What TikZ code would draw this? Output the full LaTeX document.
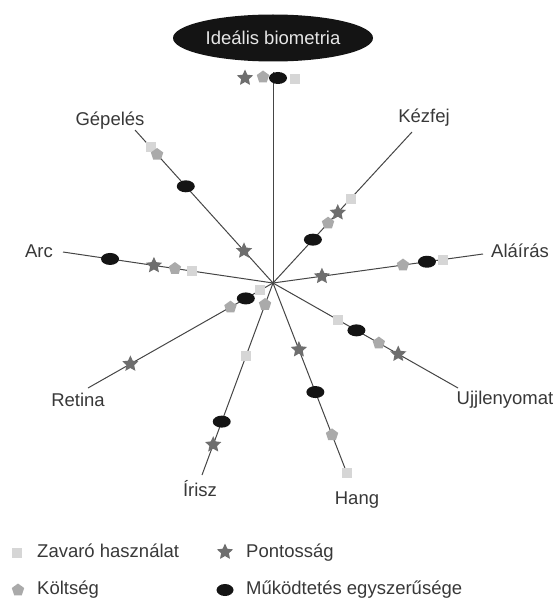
\documentclass[tikz,border=0pt]{standalone}
\usepackage{fontspec}
\setmainfont{Liberation Sans}
\usetikzlibrary{shapes.geometric,calc}
\definecolor{spoke}{HTML}{454545}
\definecolor{labeltext}{HTML}{383838}
\definecolor{sqgray}{HTML}{D6D6D6}
\definecolor{pentgray}{HTML}{AAAAAA}
\definecolor{stargray}{HTML}{6E6E6E}
\definecolor{ellblack}{HTML}{141414}
\definecolor{titletext}{HTML}{E6E6E6}

\begin{document}
\begin{tikzpicture}[x=1pt, y=-1pt,
  lbl/.style={font=\fontsize{18.5}{22}\selectfont, text=labeltext, inner sep=0pt, text height=13pt, text depth=4pt},
  sq/.style={rectangle, fill=sqgray, minimum size=10pt, inner sep=0pt},
  pent/.style={regular polygon, regular polygon sides=5, fill=pentgray, minimum size=13pt, inner sep=0pt},
  starmark/.style={star, star points=5, star point ratio=2.1, fill=stargray, minimum size=17pt, inner sep=0pt},
  ell/.style={ellipse, fill=ellblack, minimum width=18pt, minimum height=12pt, inner sep=0pt},
  spokeline/.style={draw=spoke, line width=1pt}
]
  \useasboundingbox (0,0) rectangle (557,599);

  \node[ellipse, fill=ellblack, minimum width=200pt, minimum height=47pt, inner sep=0pt,
        text=titletext, font=\fontsize{18.5}{22}\selectfont] (ideal) at (273,38) {Ideális biometria};

  \coordinate (c) at (273,283);
  \coordinate (idealend) at (273,72);
  \coordinate (gepend) at (135,130);
  \coordinate (arcend) at (63,252);
  \coordinate (kezend) at (412,132);
  \coordinate (alaend) at (483,254);
  \coordinate (ujjend) at (458,388);
  \coordinate (hangend) at (348,476);
  \coordinate (iriend) at (202,475);
  \coordinate (retend) at (88,388);

  \node[lbl] (gepeles) at (110,121) {Gépelés};
  \node[lbl] (arc) at (39,253) {Arc};
  \node[lbl] (kezfej) at (424,118) {Kézfej};
  \node[lbl] (alairas) at (520,253) {Aláírás};
  \node[lbl] (ujjlenyomat) at (505,400) {Ujjlenyomat};
  \node[lbl] (hang) at (357,500) {Hang};
  \node[lbl] (irisz) at (200,492) {Írisz};
  \node[lbl] (retina) at (78,402) {Retina};

  \foreach \e in {idealend,gepend,arcend,kezend,alaend,ujjend,hangend,iriend,retend}
    \draw[spokeline] (c) -- (\e);

  % ideal
  \node[starmark] (ideal-p) at (245,78) {};
  \node[pent] (ideal-k) at (263,77) {};
  \node[sq] (ideal-z) at (295,79) {};
  \node[ell] (ideal-m) at (278,78) {};

  % gepeles
  \node[sq] (gep-z) at ($(c)!0.886!(gepend)$) {};
  \node[pent] (gep-k) at ($(c)!0.84!(gepend)$) {};
  \node[ell] (gep-m) at ($(c)!0.632!(gepend)$) {};
  \node[starmark] (gep-p) at ($(c)!0.21!(gepend)$) {};

  % arc
  \node[ell] (arc-m) at ($(c)!0.776!(arcend)$) {};
  \node[starmark] (arc-p) at ($(c)!0.567!(arcend)$) {};
  \node[pent] (arc-k) at ($(c)!0.467!(arcend)$) {};
  \node[sq] (arc-z) at ($(c)!0.386!(arcend)$) {};

  % kezfej
  \node[sq] (kez-z) at ($(c)!0.558!(kezend)$) {};
  \node[pent] (kez-k) at ($(c)!0.396!(kezend)$) {};
  \node[starmark] (kez-p) at ($(c)!0.466!(kezend)$) {};
  \node[ell] (kez-m) at ($(c)!0.287!(kezend)$) {};

  % alairas
  \node[starmark] (ala-p) at ($(c)!0.233!(alaend)$) {};
  \node[pent] (ala-k) at ($(c)!0.619!(alaend)$) {};
  \node[sq] (ala-z) at ($(c)!0.81!(alaend)$) {};
  \node[ell] (ala-m) at ($(c)!0.733!(alaend)$) {};

  % ujjlenyomat
  \node[sq] (ujj-z) at ($(c)!0.349!(ujjend)$) {};
  \node[ell] (ujj-m) at ($(c)!0.451!(ujjend)$) {};
  \node[pent] (ujj-k) at ($(c)!0.572!(ujjend)$) {};
  \node[starmark] (ujj-p) at ($(c)!0.677!(ujjend)$) {};

  % hang
  \node[starmark] (hang-p) at ($(c)!0.345!(hangend)$) {};
  \node[ell] (hang-m) at ($(c)!0.565!(hangend)$) {};
  \node[pent] (hang-k) at ($(c)!0.787!(hangend)$) {};
  \node[sq] (hang-z) at ($(c)!0.985!(hangend)$) {};

  % irisz
  \node[pent] (iri-k) at ($(c)!0.112!(iriend)$) {};
  \node[sq] (iri-z) at ($(c)!0.378!(iriend)$) {};
  \node[ell] (iri-m) at ($(c)!0.722!(iriend)$) {};
  \node[starmark] (iri-p) at ($(c)!0.842!(iriend)$) {};

  % retina
  \node[sq] (ret-z) at ($(c)!0.068!(retend)$) {};
  \node[pent] (ret-k) at ($(c)!0.23!(retend)$) {};
  \node[ell] (ret-m) at ($(c)!0.147!(retend)$) {};
  \node[starmark] (ret-p) at ($(c)!0.771!(retend)$) {};

  % legend
  \node[sq] (leg-z) at (17,553) {};
  \node[lbl, anchor=west] (leg-zt) at (37,553) {Zavaró használat};
  \node[starmark] (leg-p) at (225,552) {};
  \node[lbl, anchor=west] (leg-pt) at (246,553) {Pontosság};
  \node[pent] (leg-k) at (18,590) {};
  \node[lbl, anchor=west] (leg-kt) at (37,590) {Költség};
  \node[ell, minimum width=17pt, minimum height=12pt] (leg-m) at (225,590) {};
  \node[lbl, anchor=west] (leg-mt) at (246,590) {Működtetés egyszerűsége};
\end{tikzpicture}
\end{document}
